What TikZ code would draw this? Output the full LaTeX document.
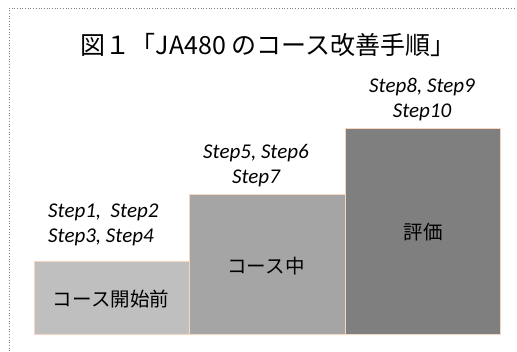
\documentclass[tikz,border=0pt]{standalone}
\usepackage{fontspec}
\newfontfamily\cjk{Noto Sans CJK JP}
\newfontfamily\calib{Carlito}
\definecolor{boxedge}{HTML}{F8D5BE}
\definecolor{gA}{HTML}{BFBFBF}
\definecolor{gB}{HTML}{A5A5A5}
\definecolor{gC}{HTML}{7F7F7F}
\begin{document}
\begin{tikzpicture}[x=1pt,y=-1pt,
  stepbar/.style={draw=boxedge,line width=0.7pt},
  steplbl/.style={font=\calib\itshape\fontsize{21}{25}\selectfont,align=center,inner sep=0pt},
  barlbl/.style={font=\cjk\fontsize{19.5}{22}\selectfont,inner sep=0pt}]
\useasboundingbox (0,0) rectangle (517,351);
\draw[gray,dotted,line width=0.7pt] (9,351) -- (9,8) -- (517,8);
\node[font=\cjk\fontsize{25}{28}\selectfont,inner sep=0pt] (title) at (268,45) {図１「JA480 のコース改善手順」};
\filldraw[stepbar,fill=gA] (34,261) rectangle (189,334);
\filldraw[stepbar,fill=gB] (189,194) rectangle (345,334);
\filldraw[stepbar,fill=gC] (345,128) rectangle (500,334);
\node[barlbl] (b1) at (111,299) {コース開始前};
\node[barlbl] (b2) at (266,266) {コース中};
\node[barlbl] (b3) at (423,232) {評価};
\node[steplbl,align=left,anchor=west] (s1) at (48,225) {Step1,\ \ Step2\\Step3, Step4};
\node[steplbl] (s2) at (256,166) {Step5, Step6\\Step7};
\node[steplbl] (s3) at (422,100) {Step8, Step9\\Step10};
\end{tikzpicture}
\end{document}
